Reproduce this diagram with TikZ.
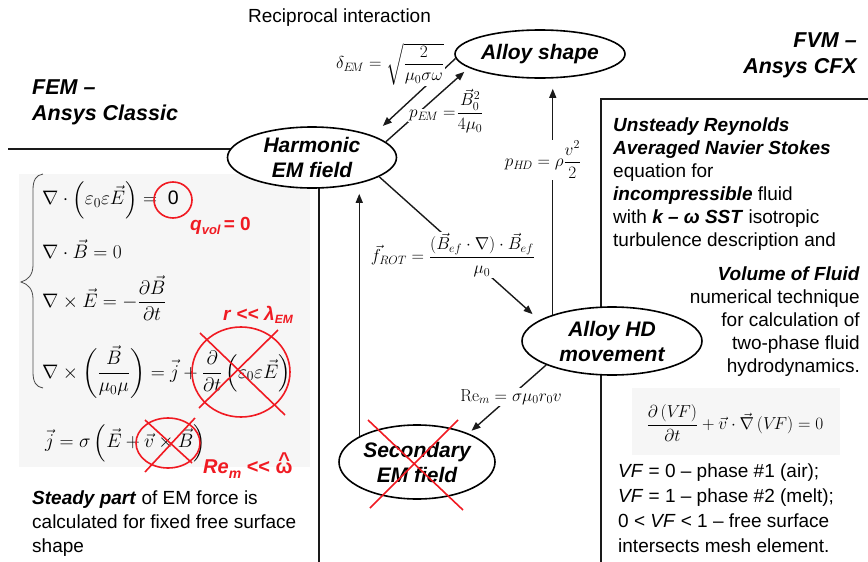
\RequirePackage{fix-cm}
\documentclass[tikz,border=0pt]{standalone}
\usepackage{amsmath}
\usepackage[no-math]{fontspec}
\setmainfont{Liberation Sans}
\usetikzlibrary{arrows.meta,shapes.geometric,positioning}
\definecolor{redx}{HTML}{F01A22}
\definecolor{panelbg}{HTML}{F6F6F6}
\definecolor{linex}{HTML}{1A1A1A}
\tikzset{
  ar/.style={-{Triangle[length=9pt,width=7pt]},line width=1.4pt,linex},
  bubble/.style={ellipse,draw,line width=1.6pt,fill=white,inner sep=0pt,align=center,font=\fontsize{21}{25}\selectfont\bfseries\itshape},
  lab/.style={fill=white,inner sep=1pt,font=\fontsize{17.3}{20}\selectfont},
  eq/.style={inner sep=0pt,anchor=west,font=\fontsize{19.5}{24}\selectfont},
  txt/.style={inner sep=0pt,font=\fontsize{19}{23}\selectfont},
  head/.style={inner sep=0pt,font=\fontsize{21.5}{26}\selectfont\bfseries\itshape},
  redlab/.style={inner sep=0pt,text=redx,font=\fontsize{19}{23}\selectfont\bfseries},
  sep/.style={line width=1.3pt,linex},
  cross/.style={redx,line width=1.6pt}
}
\newcommand{\bi}[1]{\textbf{\textit{#1}}}
\newcommand{\omhat}{\ooalign{ω\cr\hidewidth\raisebox{7pt}{\^{}}\hidewidth\cr}}
\begin{document}
\begin{tikzpicture}[x=1pt,y=-1pt]
\useasboundingbox (0,0) rectangle (868,562);
\fill[panelbg] (19,174) rectangle (310,467);
\fill[panelbg] (632,388) rectangle (840,455);
\draw[sep] (8,149) -- (250,149);
\draw[sep] (319,170) -- (319,562);
\draw[sep] (868,99) -- (601,99) -- (601,562);
\node[bubble,minimum width=170pt,minimum height=48pt] (shape) at (540,54) {Alloy shape};
\node[bubble,minimum width=169pt,minimum height=61pt] (harm) at (312,157.5) {Harmonic\\EM field};
\node[bubble,minimum width=180pt,minimum height=68pt] (hd) at (612,341) {Alloy HD\\movement};
\node[bubble,minimum width=156pt,minimum height=74pt] (sec) at (417,462) {Secondary\\EM field};
\draw[ar,shorten >=14pt] (shape.183) -- (harm.20);
\draw[ar,shorten >=6pt] (harm.12) -- (shape.191);
\draw[ar,shorten >=10pt] (hd.156) -- (hd.156 |- shape.south);
\draw[ar,shorten >=5pt] (sec.156) -- (sec.156 |- harm.south);
\draw[ar,shorten >=9pt] (harm.344) -- (hd.164);
\draw[ar,shorten >=4pt] (hd.200) -- (sec.29);
\node[lab] (dem) at (390,64) {$\delta_{E\!M}=\sqrt{\dfrac{2}{\mu_0\sigma\omega}}$};
\node[lab,fill=none,anchor=west] (pem) at (407,111) {\setlength\fboxsep{1pt}\colorbox{white}{$p_{E\!M}=$}$\dfrac{\vec{B}_0^2}{4\mu_0}$};
\node[lab] (phd) at (543,160) {$p_{H\!D}=\rho\dfrac{v^2}{2}$};
\node[lab] (frot) at (453,255) {$\vec{f}_{ROT}=\dfrac{(\vec{B}_{ef}\cdot\nabla)\cdot\vec{B}_{ef}}{\mu_0}$};
\node[lab] (rem) at (511,397) {$\mathrm{Re}_m=\sigma\mu_0 r_0 v$};
\draw[cross] (368,420) -- (463,510);
\draw[cross] (458,420) -- (370,508);
\node[txt,anchor=base west] (recip) at (248,23) {Reciprocal interaction};
\node[head,anchor=north west,align=left] (fem) at (32,79.5) {FEM --\\Ansys Classic};
\node[head,anchor=north east,align=right] (fvm) at (857,32.6) {FVM --\\Ansys CFX};
\draw[gray!60!black,line width=0.8pt] (43,174) .. controls (36,175) and (33,180) .. (33,190) -- (33,265)
  .. controls (33,275) and (28,280) .. (21,282) .. controls (28,284) and (33,289) .. (33,299) -- (33,372)
  .. controls (33,382) and (36,387) .. (43,388);
\node[eq] (eqa) at (42,200) {$\nabla\cdot\left(\varepsilon_0\varepsilon\vec{E}\right)=\;\text{0}$};
\node[eq] (eqb) at (42,249) {$\nabla\cdot\vec{B}=0$};
\node[eq] (eqc) at (42,298) {$\nabla\times\vec{E}=-\dfrac{\partial\vec{B}}{\partial t}$};
\node[eq] (eqd) at (42,372) {$\nabla\times\left(\dfrac{\vec{B}}{\mu_0\mu}\right)=\vec{j}+\dfrac{\partial}{\partial t}\left(\varepsilon_0\varepsilon\vec{E}\right)$};
\node[eq] (eqe) at (45,443) {$\vec{j}=\sigma\left(\vec{E}+\vec{v}\times\vec{B}\right)$};
\draw[cross] (173,200) ellipse [x radius=19,y radius=18];
\draw[cross] (241,372) ellipse [x radius=49,y radius=45];
\draw[cross] (200,333) -- (285,415);
\draw[cross] (278,330) -- (199,408);
\draw[cross] (168,443) ellipse [x radius=32,y radius=25];
\draw[cross] (145,420) -- (192,463);
\draw[cross] (195,418) -- (145,472);
\node[redlab,anchor=base west] (qvol) at (190,230) {\textit{q}\raisebox{-4pt}{\fontsize{13}{13}\selectfont\itshape vol}\,= 0};
\node[redlab,anchor=base west] (rlam) at (223,320) {\textit{r} <{}< \textit{λ}\raisebox{-3pt}{\fontsize{12}{12}\selectfont\itshape EM}};
\node[redlab,anchor=base west,font=\fontsize{20}{24}\selectfont\bfseries] (remw) at (203,473) {\textit{Re}\raisebox{-5pt}{\fontsize{14}{14}\selectfont\itshape m} <{}< \omhat};
\node[txt,anchor=north west,align=left,font=\fontsize{19}{24}\selectfont] (steady) at (32,491) {\bi{Steady part} of EM force is\\calculated for fixed free surface\\shape};
\node[txt,anchor=north west,align=left] (urans) at (613,118) {\bi{Unsteady Reynolds}\\\bi{Averaged Navier Stokes}\\equation for\\\bi{incompressible} fluid\\with \bi{k -- ω SST} isotropic\\turbulence description and};
\node[txt,anchor=north east,align=right] (vof) at (860,267) {\bi{Volume of Fluid}\\numerical technique\\for calculation of\\two-phase fluid\\hydrodynamics.};
\node[eq,anchor=center,font=\fontsize{17.3}{21}\selectfont] (vfeq) at (735,423) {$\dfrac{\partial\left(V\!F\right)}{\partial t}+\vec{v}\cdot\vec{\nabla}\left(V\!F\right)=0$};
\node[txt,anchor=north west,align=left,font=\fontsize{19}{25}\selectfont] (phases) at (618,464) {\textit{VF} = 0 -- phase \#1 (air);\\\textit{VF} = 1 -- phase \#2 (melt);\\0 < \textit{VF} < 1 -- free surface\\intersects mesh element.};
\end{tikzpicture}
\end{document}
